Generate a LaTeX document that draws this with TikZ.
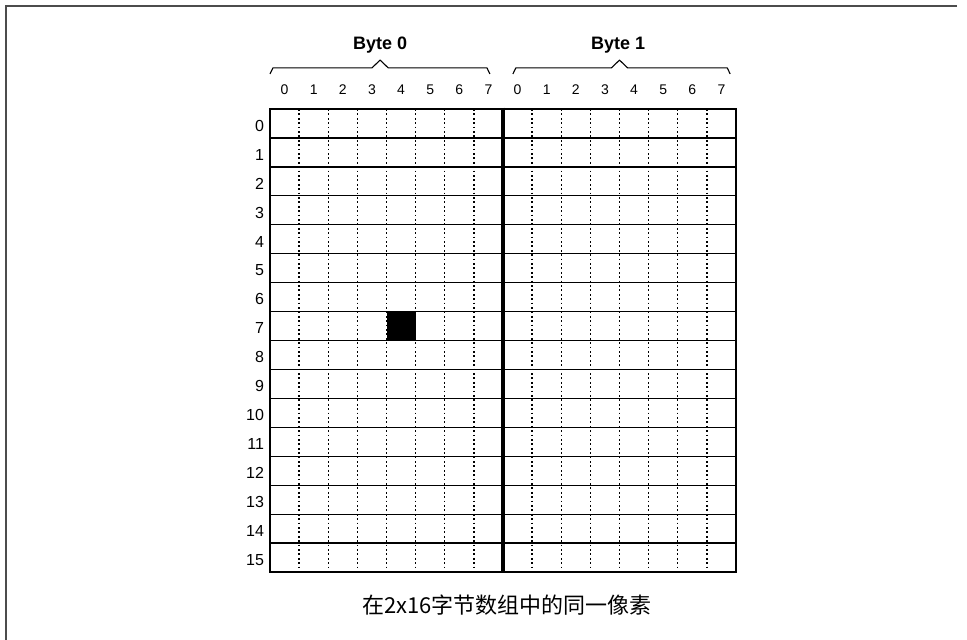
\documentclass[tikz,border=0pt]{standalone}
\usepackage{fontspec}
\setmainfont{Liberation Sans}
\newfontfamily\cjkfont{Noto Sans CJK SC}
\usetikzlibrary{positioning}

\begin{document}
\begin{tikzpicture}[x=1pt, y=-1pt, line cap=butt, line join=miter,
  gridline/.style={line width=1.3pt},
  bitline/.style={line width=1.4pt, dash pattern=on 1.8pt off 2.6pt},
  bytesep/.style={line width=3.6pt},
  bracket/.style={line width=1.1pt, line join=round},
  bitlabel/.style={font=\fontsize{14}{14}\selectfont},
  rowlabel/.style={font=\fontsize{16}{16}\selectfont, anchor=east, inner sep=0pt},
  bytelabel/.style={font=\fontsize{18}{18}\selectfont\bfseries, anchor=base}]
  \useasboundingbox (0,0) rectangle (967,640);
  % page frame (only top and left edges show)
  \draw[line width=2pt, black!70] (957,6) -- (6,6) -- (6,640);
  % 16x16 bit grid, one cell per unit
  \begin{scope}[shift={(270,109)}, x=29.125pt, y=-28.94pt]
    \fill (4,7) rectangle (5,8);
    \foreach \c in {1,...,7,9,10,...,15}
      \draw[bitline] (\c,0) -- (\c,16);
    \foreach \r in {0,...,16}
      \draw[gridline] (-0.02,\r) -- (16.02,\r);
    \draw[gridline] (0,0) -- (0,16) (16,0) -- (16,16);
    \draw[bytesep] (8,-0.05) -- (8,16.05);
    % bit numbers
    \foreach \c in {0,...,7} {
      \node[bitlabel] (bz\c) at (\c+0.5,-0.66) {\c};
      \node[bitlabel] (bo\c) at (\c+8.5,-0.66) {\c};
    }
    % row numbers
    \foreach \r in {0,...,15}
      \node[rowlabel] (row\r) at (-0.2,\r+0.58) {\r};
    % byte brackets
    \draw[bracket] (0,-1.21) -- (0.1,-1.42) -- (3.5,-1.42) -- (3.78,-1.69)
      -- (4.06,-1.42) -- (7.45,-1.42) -- (7.55,-1.21);
    \draw[bracket] (8.34,-1.21) -- (8.44,-1.42) -- (11.72,-1.42) -- (12.0,-1.69)
      -- (12.28,-1.42) -- (15.7,-1.42) -- (15.8,-1.21);
    \node[bytelabel] (byte0) at (3.78,-2.07) {Byte 0};
    \node[bytelabel] (byte1) at (11.95,-2.07) {Byte 1};
  \end{scope}
  \node[font=\cjkfont\fontsize{22}{22}\selectfont] (caption) at (507,605)
    {在2x16字节数组中的同一像素};
\end{tikzpicture}
\end{document}
